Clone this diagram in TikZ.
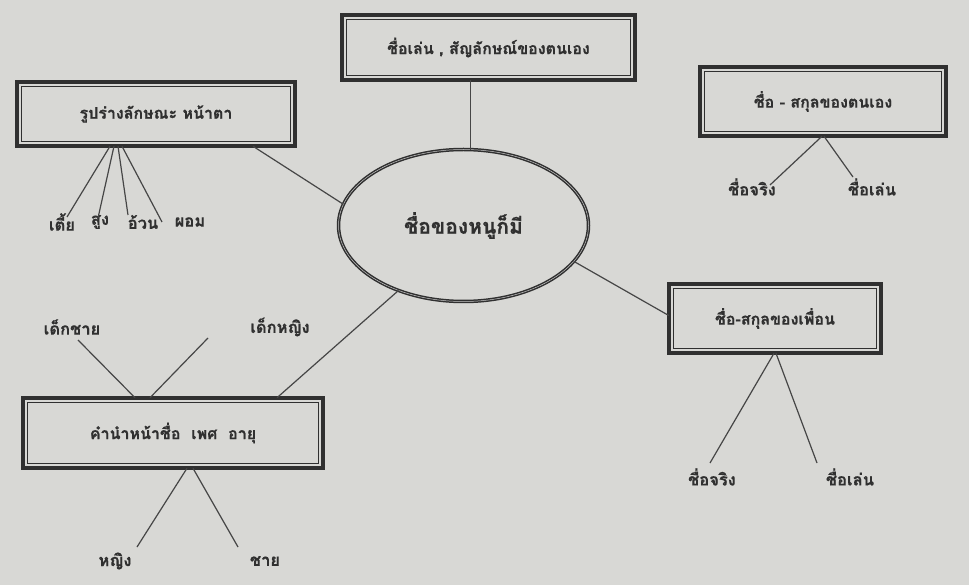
\documentclass[tikz,border=0pt]{standalone}
\usepackage{fontspec}
\newfontfamily\thaifont[Script=Thai,BoldFeatures={FakeBold=0.6}]{Loma}
\usetikzlibrary{shapes.geometric,calc}
\definecolor{paper}{RGB}{216,216,213}
\definecolor{ink}{RGB}{48,48,48}
\definecolor{wire}{RGB}{70,70,70}
\tikzset{
  box/.style={draw=ink, line width=3.6pt, outer sep=0pt, inner sep=0pt, text=ink,
    font=\thaifont\bfseries\fontsize{16}{19}\selectfont},
  innerline/.style={draw=ink, line width=1.3pt},
  oval/.style={ellipse, draw=ink, double=gray!45, double distance=0.5pt, line width=1.5pt,
    outer sep=0pt, inner sep=0pt, text=ink, font=\thaifont\bfseries\fontsize{21}{25}\selectfont},
  lbl/.style={text=ink, inner sep=0pt, font=\thaifont\bfseries\fontsize{16.5}{19}\selectfont},
  conn/.style={draw=wire, line width=1.2pt},
}
\begin{document}
\begin{tikzpicture}[x=1pt,y=-1pt]
\useasboundingbox[fill=paper] (0,0) rectangle (969,585);
% boxes
\node[box, minimum width=293.5pt, minimum height=65.5pt] (A) at (488.5,47.5) {ชื่อเล่น , สัญลักษณ์ของตนเอง};
\node[box, minimum width=278.5pt, minimum height=64.5pt] (B) at (156,114) {รูปร่างลักษณะ หน้าตา};
\node[box, minimum width=246.5pt, minimum height=69.5pt] (C) at (823,101.5) {ชื่อ - สกุลของตนเอง};
\node[box, minimum width=212.5pt, minimum height=69.5pt] (D) at (775,318.5) {ชื่อ-สกุลของเพื่อน};
\node[box, minimum width=300.5pt, minimum height=70.5pt] (E) at (173,433) {คำนำหน้าชื่อ~~เพศ~~อายุ};
\foreach \n in {A,B,C,D,E}
  \draw[innerline] ([shift={(4.8pt,4.8pt)}]\n.south west) rectangle ([shift={(-4.8pt,-4.8pt)}]\n.north east);
% centre oval
\node[oval, minimum width=250pt, minimum height=152pt] (O) at (463.5,225.5) {ชื่อของหนูก็มี};
% labels
\node[lbl] (t1) at (62,222) {เตี้ย};
\node[lbl] (t2) at (100,222) {สูง};
\node[lbl] (t3) at (143,222) {อ้วน};
\node[lbl] (t4) at (190,222) {ผอม};
\node[lbl] (c1) at (752,187) {ชื่อจริง};
\node[lbl] (c2) at (872,187) {ชื่อเล่น};
\node[lbl] (d1) at (712,477) {ชื่อจริง};
\node[lbl] (d2) at (850,477) {ชื่อเล่น};
\node[lbl] (e1) at (72,327) {เด็กชาย};
\node[lbl] (e2) at (280,327) {เด็กหญิง};
\node[lbl] (f1) at (115,561) {หญิง};
\node[lbl] (f2) at (265,561) {ชาย};
% free ends
\coordinate (pt1) at (67,217);
\coordinate (pt2) at (98,218);
\coordinate (pt3) at (128,215);
\coordinate (pt4) at (162,222);
\coordinate (pc1) at (770,185);
\coordinate (pc2) at (853,177);
\coordinate (pd1) at (710,463);
\coordinate (pd2) at (817,463);
\coordinate (pe1) at (78,340);
\coordinate (pe2) at (208,338);
\coordinate (pf1) at (137,547);
\coordinate (pf2) at (238,547);
% connectors to oval
\draw[conn] (A.south -| O.85) -- (O.85);
\draw[conn] ([xshift=97pt]B.south) -- (O.170);
\draw[conn] (O.-18) -- ([yshift=3pt]D.west);
\draw[conn] (O.-135) -- ([xshift=104pt]E.north);
% sub connectors
\draw[conn] ([xshift=-46pt]B.south) -- (pt1);
\draw[conn] ([xshift=-42pt]B.south) -- (pt2);
\draw[conn] ([xshift=-38pt]B.south) -- (pt3);
\draw[conn] ([xshift=-34pt]B.south) -- (pt4);
\draw[conn] ([xshift=-1pt]C.south) -- (pc1);
\draw[conn] ([xshift=1pt]C.south) -- (pc2);
\draw[conn] ([xshift=-1pt]D.south) -- (pd1);
\draw[conn] ([xshift=1pt]D.south) -- (pd2);
\draw[conn] ([xshift=-38pt]E.north) -- (pe1);
\draw[conn] ([xshift=-23pt]E.north) -- (pe2);
\draw[conn] ([xshift=14pt]E.south) -- (pf1);
\draw[conn] ([xshift=20pt]E.south) -- (pf2);
\end{tikzpicture}
\end{document}
